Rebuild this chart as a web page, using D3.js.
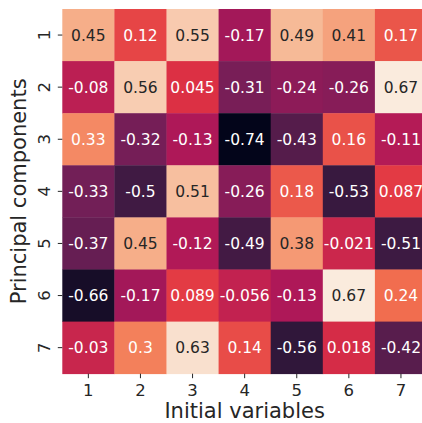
<!DOCTYPE html>
<html>
<head>
<meta charset="utf-8">
<script src="https://cdn.jsdelivr.net/npm/d3@7"></script>
<style>
  html, body { margin: 0; padding: 0; background: #fff; overflow: hidden; }
  text { font-family: "DejaVu Sans", sans-serif; }
</style>
</head>
<body>
<svg id="chart" width="422" height="423"></svg>
<script>
// ---- data ----
const variables = ["1", "2", "3", "4", "5", "6", "7"];   // columns (Initial variables)
const components = ["1", "2", "3", "4", "5", "6", "7"];  // rows (Principal components)
const row1 = [0.45, 0.12, 0.55, -0.17, 0.49, 0.41, 0.17];
const row2 = [-0.08, 0.56, 0.045, -0.31, -0.24, -0.26, 0.67];
const row3 = [0.33, -0.32, -0.13, -0.74, -0.43, 0.16, -0.11];
const row4 = [-0.33, -0.5, 0.51, -0.26, 0.18, -0.53, 0.087];
const row5 = [-0.37, 0.45, -0.12, -0.49, 0.38, -0.021, -0.51];
const row6 = [-0.66, -0.17, 0.089, -0.056, -0.13, 0.67, 0.24];
const row7 = [-0.03, 0.3, 0.63, 0.14, -0.56, 0.018, -0.42];
const rows = [row1, row2, row3, row4, row5, row6, row7];

// rocket colormap control colours
const rocketStops = ["#03051a", "#35193e", "#701f57", "#ad1759", "#e13342", "#f37651", "#f6b48f", "#faebdd"];

// ---- layout ----
const svg = d3.select("#chart");
const mLeft = 62.3, mTop = 9, cell = 52.1;
const x = d3.scaleBand().domain(variables).range([mLeft, mLeft + cell * 7]);
const y = d3.scaleBand().domain(components).range([mTop, mTop + cell * 7]);

const cells = [];
rows.forEach((r, i) => r.forEach((v, j) => cells.push({ row: components[i], col: variables[j], v })));
const allVals = cells.map(d => d.v);
const vmin = d3.min(allVals), vmax = d3.max(allVals);
const interp = d3.piecewise(d3.interpolateRgb, rocketStops);
const color = d3.scaleSequential(interp).domain([vmin, vmax]);

function lum(c) {
  const rgb = d3.rgb(c);
  const f = u => { u /= 255; return u <= 0.03928 ? u / 12.92 : Math.pow((u + 0.055) / 1.055, 2.4); };
  return 0.2126 * f(rgb.r) + 0.7152 * f(rgb.g) + 0.0722 * f(rgb.b);
}
function fmt(v) { return String(Number(v.toPrecision(2))); }

svg.append("g").selectAll("rect").data(cells).join("rect")
  .attr("x", d => x(d.col)).attr("y", d => y(d.row))
  .attr("width", x.bandwidth() + 0.4).attr("height", y.bandwidth() + 0.4)
  .attr("fill", d => color(d.v));

svg.append("g").selectAll("text").data(cells).join("text")
  .attr("x", d => x(d.col) + x.bandwidth() / 2)
  .attr("y", d => y(d.row) + y.bandwidth() / 2)
  .attr("dy", "0.36em")
  .attr("text-anchor", "middle")
  .attr("font-size", 15.5)
  .attr("fill", d => lum(color(d.v)) > 0.408 ? "#262626" : "#ffffff")
  .text(d => fmt(d.v));

// x axis
const xAxis = svg.append("g").attr("transform", `translate(0,${mTop + cell * 7})`)
  .call(d3.axisBottom(x).tickSize(4.5).tickPadding(6));
xAxis.select(".domain").remove();
xAxis.selectAll("line").attr("stroke", "#262626").attr("stroke-width", 1);
xAxis.selectAll("text").attr("font-size", 16.5).attr("fill", "#262626")
  .attr("font-family", "DejaVu Sans");

// y axis
const yAxis = svg.append("g").attr("transform", `translate(${mLeft},0)`)
  .call(d3.axisLeft(y).tickSize(4.5).tickPadding(0));
yAxis.select(".domain").remove();
yAxis.selectAll("line").attr("stroke", "#262626").attr("stroke-width", 1);
yAxis.selectAll("text")
  .attr("font-size", 16.5).attr("fill", "#262626").attr("font-family", "DejaVu Sans")
  .attr("x", null).attr("dy", null)
  .attr("text-anchor", "middle")
  .attr("transform", "translate(-12.5,0) rotate(-90)");

// axis titles
svg.append("text")
  .attr("x", mLeft + cell * 3.5).attr("y", 418)
  .attr("text-anchor", "middle").attr("font-size", 21).attr("fill", "#262626")
  .text("Initial variables");

svg.append("text")
  .attr("transform", `translate(25.5,${mTop + cell * 3.5}) rotate(-90)`)
  .attr("text-anchor", "middle").attr("font-size", 21).attr("fill", "#262626")
  .text("Principal components");
</script>
</body>
</html>
